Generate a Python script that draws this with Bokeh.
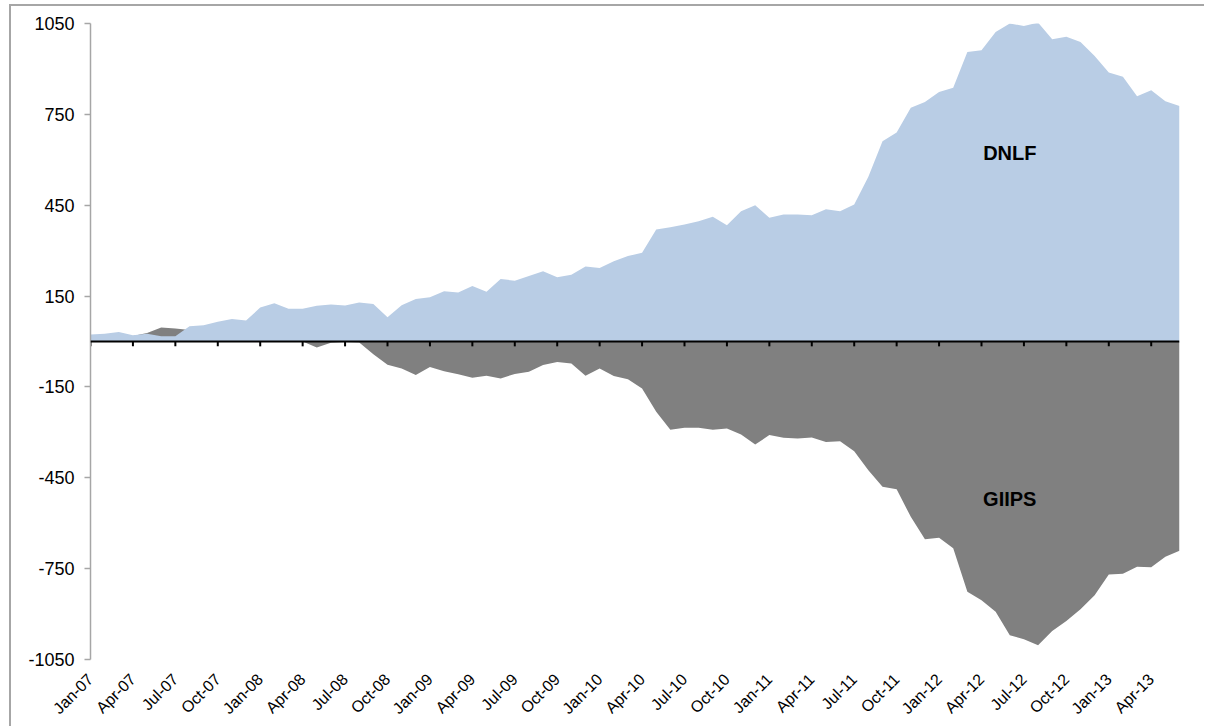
from bokeh.plotting import figure
from bokeh.models import FixedTicker, Span, Label, Range1d
from bokeh.embed import file_html
from bokeh.resources import INLINE

# Monthly data, Jan-07 .. Jun-13
dnlf = [23, 26, 31, 21, 26, 17, 17, 50, 54, 65, 74, 69,
        112, 126, 108, 108, 118, 122, 119, 129, 124, 80, 120, 140,
        146, 166, 162, 183, 164, 206, 201, 216, 232, 212, 220, 248,
        243, 265, 282, 293, 370, 377, 386, 397, 412, 384, 430, 450,
        409, 419, 419, 417, 437, 430, 452, 544, 661, 690, 772, 791,
        824, 838, 956, 962, 1022, 1050, 1042, 1053, 998, 1006, 989, 943,
        888, 874, 810, 830, 793, 778]

giips = [8, 12, 14, 18, 28, 46, 43, 38, 15, 10, 8, 5,
         4, 3, 2, 0, -20, -4, -2, -3, -42, -77, -89, -111,
         -84, -98, -108, -120, -113, -122, -107, -100, -78, -68, -73, -113,
         -89, -114, -125, -155, -232, -291, -285, -285, -291, -287, -307, -340,
         -309, -318, -320, -317, -332, -329, -362, -425, -480, -488, -579, -653,
         -648, -683, -826, -854, -892, -970, -983, -1003, -956, -923, -884, -838,
         -769, -767, -744, -745, -711, -691]

tick_labels = ["Jan-07", "Apr-07", "Jul-07", "Oct-07",
               "Jan-08", "Apr-08", "Jul-08", "Oct-08",
               "Jan-09", "Apr-09", "Jul-09", "Oct-09",
               "Jan-10", "Apr-10", "Jul-10", "Oct-10",
               "Jan-11", "Apr-11", "Jul-11", "Oct-11",
               "Jan-12", "Apr-12", "Jul-12", "Oct-12",
               "Jan-13", "Apr-13"]

y_ticks = [-1050, -750, -450, -150, 150, 450, 750, 1050]
y_tick_labels = ["-1050", "-750", "-450", "-150", "150", "450", "750", "1050"]

series_names = ["DNLF", "GIIPS"]

x = list(range(len(dnlf)))
tick_pos = [3 * i for i in range(len(tick_labels))]

FONT = "Liberation Sans"

p = figure(frame_width=1089, frame_height=636,
           x_range=Range1d(0, len(dnlf) - 1), y_range=Range1d(-1050, 1050),
           output_backend="svg", toolbar_location=None,
           min_border_left=79, min_border_top=17, min_border_right=25, min_border_bottom=60,
           styles={"border-left": "2px solid #a6a6a6", "border-top": "2px solid #a6a6a6",
                   "margin-left": "9px", "margin-top": "4px"})

p.background_fill_color = "white"
p.border_fill_color = "white"
p.outline_line_color = None
p.xgrid.visible = False
p.ygrid.visible = False

# areas
p.varea(x=x, y1=0, y2=giips, fill_color="#808080")
p.varea(x=x, y1=0, y2=dnlf, fill_color="#b9cde5")

# zero axis line with ticks
p.add_layout(Span(location=0, dimension="width", line_color="black", line_width=2))
p.segment(x0=tick_pos, y0=[0] * len(tick_pos), x1=tick_pos, y1=[-16] * len(tick_pos),
          line_color="black", line_width=2)

# x axis (labels only, at bottom)
xa = p.xaxis[0]
xa.ticker = FixedTicker(ticks=tick_pos)
xa.major_label_overrides = {t: l for t, l in zip(tick_pos, tick_labels)}
xa.major_label_orientation = 0.785398
xa.axis_line_color = None
xa.major_tick_line_color = None
xa.minor_tick_line_color = None
xa.major_label_text_font = FONT
xa.major_label_text_font_size = "16px"
xa.major_label_text_color = "black"
xa.major_label_standoff = 11

# y axis
ya = p.yaxis[0]
ya.ticker = FixedTicker(ticks=y_ticks)
ya.major_label_overrides = {t: l for t, l in zip(y_ticks, y_tick_labels)}
ya.axis_line_color = "#a6a6a6"
ya.axis_line_width = 1.5
ya.major_tick_line_color = "#a6a6a6"
ya.major_tick_line_width = 1.5
ya.major_tick_in = 0
ya.major_tick_out = 6
ya.minor_tick_line_color = None
ya.major_label_text_font = FONT
ya.major_label_text_font_size = "18px"
ya.major_label_text_color = "black"
ya.major_label_standoff = 10

# series labels
p.add_layout(Label(x=65, y=624, text=series_names[0], text_align="center", text_baseline="middle",
                   text_font=FONT, text_font_style="bold", text_font_size="20px", text_color="black"))
p.add_layout(Label(x=65, y=-521, text=series_names[1], text_align="center", text_baseline="middle",
                   text_font=FONT, text_font_style="bold", text_font_size="20px", text_color="black"))

open("out.html", "w").write(file_html(p, INLINE))
